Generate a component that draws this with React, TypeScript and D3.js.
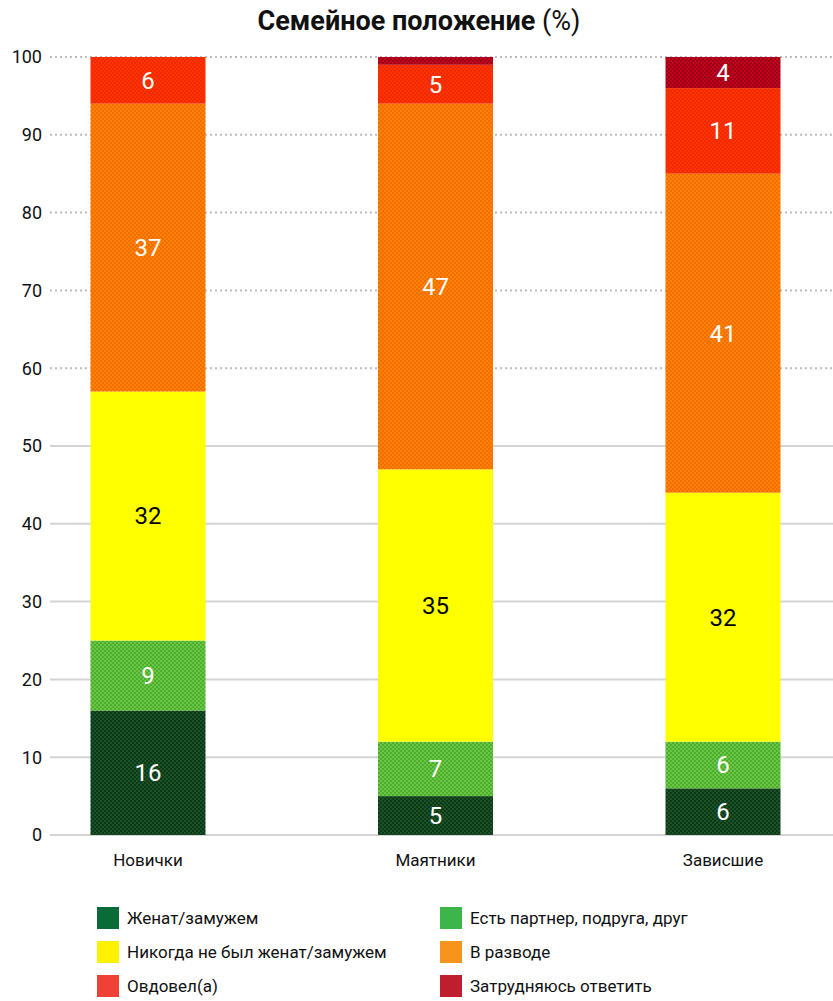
import * as d3 from 'd3';
import { FunctionComponent } from 'react';

const categories = ['Новички', 'Маятники', 'Зависшие'];
const seriesNames = [
    'Женат/замужем',
    'Есть партнер, подруга, друг',
    'Никогда не был женат/замужем',
    'В разводе',
    'Овдовел(а)',
    'Затрудняюсь ответить',
];
const married = [16, 5, 6];
const partner = [9, 7, 6];
const neverMarried = [32, 35, 32];
const divorced = [37, 47, 41];
const widowed = [6, 5, 11];
const unsure = [0, 1, 4];
const yTicks = [0, 10, 20, 30, 40, 50, 60, 70, 80, 90, 100];

const seriesValues = [married, partner, neverMarried, divorced, widowed, unsure];
// bar fill (textured) and legend swatch colours
const barColors = ['#0c3a19', '#4cae2e', '#ffff00', '#ff8200', '#ff3300', '#c4001c'];
const dotColors = ['#1d5228', '#6cc544', '#ffff00', '#f26c00', '#f02a00', '#9a0018'];
const legendColors = ['#0b6b38', '#3db54a', '#fff200', '#f7941d', '#ef4136', '#be1e2d'];
const textColors = ['#fff', '#fff', '#000', '#fff', '#fff', '#fff'];

const font = "Roboto, 'Noto Sans', sans-serif";

const width = 833;
const height = 1001;

export const App: FunctionComponent = () => {
    const y = d3.scaleLinear([0, 100], [835, 57]);
    const x = d3.scalePoint(categories, [148, 723]);
    const barWidth = 115;

    const rows = categories.map((c, i) => {
        const row: Record<string, number | string> = { cat: c };
        seriesNames.forEach((s, j) => (row[s] = seriesValues[j][i]));
        return row;
    });
    const stacked = d3.stack<Record<string, number | string>>().keys(seriesNames)
        .value((d, k) => d[k] as number)(rows);

    return <svg width={width} height={height} viewBox={`0 0 ${width} ${height}`}
        style={{ position: 'absolute', left: 0, top: 0, fontFamily: font }}>
        <defs>
            {barColors.map((c, i) =>
                <pattern key={i} id={`pat${i}`} width={4} height={4} patternUnits="userSpaceOnUse">
                    <rect width={4} height={4} fill={c} />
                    <rect x={0} y={0} width={2} height={2} fill={dotColors[i]} />
                    <rect x={2} y={2} width={2} height={2} fill={dotColors[i]} />
                </pattern>)}
        </defs>

        <text x={419} y={30} textAnchor="middle" fontSize={27} fill="#111">
            <tspan fontWeight="bold">Семейное положение</tspan>
            <tspan> (%)</tspan>
        </text>

        {yTicks.map(t => <g key={t}>
            <line x1={50} x2={833} y1={y(t)} y2={y(t)}
                stroke={t >= 60 ? '#bcbcbc' : '#d4d4d4'} strokeWidth={2}
                strokeDasharray={t >= 60 ? '2,3' : undefined} />
            <text x={42} y={y(t)} dy="0.35em" textAnchor="end" fontSize={18} fill="#111">{t}</text>
        </g>)}

        {stacked.map((s, j) => <g key={s.key}>
            {s.map((d, i) => d[1] - d[0] > 0 &&
                <rect key={i} x={x(categories[i])! - barWidth / 2} width={barWidth}
                    y={y(d[1])} height={y(d[0]) - y(d[1])} fill={`url(#pat${j})`} />)}
        </g>)}

        {stacked.map((s, j) => <g key={s.key + 'l'}>
            {s.map((d, i) => d[1] - d[0] >= 2 &&
                <text key={i} x={x(categories[i])!} y={(y(d[0]) + y(d[1])) / 2} dy="0.35em"
                    textAnchor="middle" fontSize={24} fill={textColors[j]}>{d[1] - d[0]}</text>)}
        </g>)}

        {categories.map(c =>
            <text key={c} x={x(c)!} y={866} textAnchor="middle" fontSize={17} fill="#111">{c}</text>)}

        {seriesNames.map((s, j) => {
            const col = j % 2;
            const row = Math.floor(j / 2);
            const lx = col === 0 ? 97 : 440;
            const ly = 918 + row * 34;
            return <g key={s}>
                <rect x={lx} y={ly - 11} width={22} height={22} fill={legendColors[j]} />
                <text x={lx + 30} y={ly} dy="0.35em" fontSize={17} fill="#111">{s}</text>
            </g>;
        })}
    </svg>;
};

export default App;
